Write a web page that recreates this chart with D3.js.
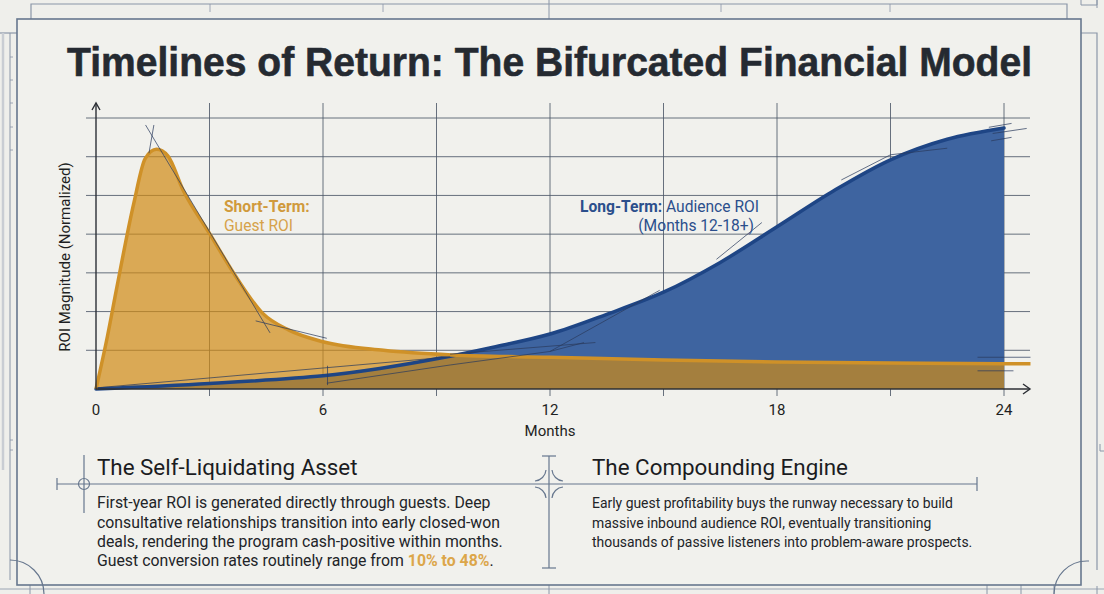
<!DOCTYPE html>
<html>
<head>
<meta charset="utf-8">
<script src="https://cdn.jsdelivr.net/npm/d3@7"></script>
<style>
  html, body { margin: 0; padding: 0; background: #efefeb; }
  svg { display: block; }
</style>
</head>
<body>
<svg id="chart" width="1104" height="594"></svg>
<script>
// ---------------- DATA ----------------
const title = "Timelines of Return: The Bifurcated Financial Model";
const xTicks = [0, 6, 12, 18, 24];
const gridMonths = [3, 6, 9, 12, 15, 18, 21, 24];
const gridValues = [1, 2, 3, 4, 5, 6, 7];

// Short-Term: Guest ROI (orange)
const guestMonths = [0, 0.3, 0.55, 1.0, 1.3, 1.6, 1.9, 2.3, 3.0, 3.7, 4.4, 5.1, 6.0, 7.6, 9.4, 12, 15, 18, 21, 24];
const guestValues = [0, 1.35, 2.62, 4.8, 5.95, 6.19, 6.02, 5.14, 4.02, 2.9, 1.96, 1.52, 1.22, 1.0, 0.88, 0.82, 0.75, 0.7, 0.67, 0.65];
const guestLineTail = [24, 24.7]; // line continues to the axis arrow
// Long-Term: Audience ROI (blue)
const audienceMonths = [0, 3, 6, 7.5, 9, 10.5, 12, 13.5, 15, 16.5, 18, 19.5, 21, 22.5, 24];
const audienceValues = [0, 0.14, 0.34, 0.53, 0.78, 1.08, 1.42, 1.93, 2.5, 3.27, 4.19, 5.12, 5.92, 6.45, 6.74];

// Drafting (construction) strokes, in [month, value] pairs
const draftLines = [
  [[1.31, 6.82], [4.6, 1.45]],
  [[1.53, 6.82], [1.40, 6.09]],
  [[4.22, 1.76], [6.1, 1.31]],
  [[0.02, 0.03], [9.36, 0.83]],
  [[6.1, 0.15], [9.36, 0.62]],
  [[6.12, 0.6], [6.12, 0.1]],
  [[9.36, 0.62], [12.0, 0.97], [14.9, 2.55]],
  [[12.0, 0.97], [12.9, 1.2]],
  [[9.36, 0.9], [13.2, 1.2]],
  [[16.4, 3.35], [17.6, 4.3]],
  [[19.7, 5.4], [21.0, 6.05], [22.5, 6.22]],
  [[23.6, 6.76], [24.2, 6.86]],
  [[23.7, 6.6], [24.6, 6.73]],
  [[23.66, 6.41], [24.2, 6.5]],
  [[23.3, 0.82], [24.7, 0.82]],
  [[23.3, 0.47], [24.25, 0.47]]
];

const leftHeading = "The Self-Liquidating Asset";
const leftBody = [
  "First-year ROI is generated directly through guests. Deep",
  "consultative relationships transition into early closed-won",
  "deals, rendering the program cash-positive within months.",
  "Guest conversion rates routinely range from "
];
const leftHighlight = "10% to 48%";
const rightHeading = "The Compounding Engine";
const rightBody = [
  "Early guest profitability buys the runway necessary to build",
  "massive inbound audience ROI, eventually transitioning",
  "thousands of passive listeners into problem-aware prospects."
];

// ---------------- SETUP ----------------
const svg = d3.select("#chart");
const W = 1104, H = 594;
const frameCol = "#67778e";
const gridCol = "#4f5a6a";
const ink = "#252a31";
const orangeLine = "#cf9128";
const blueFill = "#3e64a0";
const blueLine = "#1e4585";

svg.append("rect").attr("width", W).attr("height", H).attr("fill", "#efefeb");

// ---- blueprint frame decoration ----
const fr = svg.append("g").attr("fill", "none").attr("stroke", "#8a96a8");
fr.append("path").attr("d", "M31,19 V4 H1067 V19").attr("stroke-width", 1.2);
[210, 383, 721, 890].forEach(x => fr.append("line").attr("x1", x).attr("x2", x).attr("y1", 4).attr("y2", 12).attr("stroke-width", 0.8));
fr.append("line").attr("x1", 549).attr("x2", 549).attr("y1", 0).attr("y2", 19).attr("stroke-width", 1);
fr.append("path").attr("d", "M1081,0 V5 H1097 V0").attr("stroke-width", 1);
fr.append("path").attr("d", "M1081,33 H1097 V570").attr("stroke-width", 1.2);
fr.append("path").attr("d", "M0,33 H17").attr("stroke-width", 1.2);
fr.append("line").attr("x1", 10).attr("x2", 10).attr("y1", 33).attr("y2", 580).attr("stroke-width", 1);
fr.append("line").attr("x1", 3).attr("x2", 3).attr("y1", 33).attr("y2", 470).attr("stroke-width", 2.5).attr("stroke", "#c9cdd3");
[57, 80, 103, 127, 150, 440, 450].forEach(y => fr.append("line").attr("x1", 10).attr("x2", 13).attr("y1", y).attr("y2", y).attr("stroke-width", 0.8));
fr.append("path").attr("d", "M1097,0 V8 M1100,444 V451 H1104").attr("stroke-width", 1);
fr.append("line").attr("x1", 0).attr("x2", 1104).attr("y1", 589).attr("y2", 589).attr("stroke-width", 1).attr("stroke", "#9aa4b3");
[30, 549, 987, 1021, 1054].forEach(x => fr.append("line").attr("x1", x).attr("x2", x).attr("y1", 585).attr("y2", 594).attr("stroke-width", 1));
fr.append("path").attr("d", "M1097,586 V594").attr("stroke-width", 1);

// main panel
svg.append("rect").attr("x", 17).attr("y", 19).attr("width", 1064).attr("height", 566)
  .attr("fill", "#f1f1ed").attr("stroke", frameCol).attr("stroke-width", 1.6);
svg.append("path").attr("d", "M10,560 A34,34 0 0 1 44,594").attr("fill", "none").attr("stroke", frameCol).attr("stroke-width", 1.2);
svg.append("path").attr("d", "M1054,594 A33,33 0 0 1 1087,561 H1089").attr("fill", "none").attr("stroke", frameCol).attr("stroke-width", 1.2);

// ---------------- TITLE ----------------
svg.append("text").attr("x", 549.5).attr("y", 76).attr("text-anchor", "middle")
  .attr("font-family", "'Liberation Sans Narrow', 'Liberation Sans', Arial, sans-serif").attr("font-weight", "bold")
  .attr("font-size", 41).attr("fill", ink).attr("stroke", ink).attr("stroke-width", 0.6)
  .attr("textLength", 965).attr("lengthAdjust", "spacingAndGlyphs").text(title);

// ---------------- SCALES ----------------
const x = d3.scaleLinear().domain([0, 24]).range([96, 1004]);
const y = d3.scaleLinear().domain([0, 7]).range([389, 118]);
const xRight = 1030, yTop = 103;

// gridlines
const g = svg.append("g");
g.selectAll("line.h").data(gridValues).join("line")
  .attr("x1", 86).attr("x2", xRight).attr("y1", d => y(d)).attr("y2", d => y(d))
  .attr("stroke", gridCol).attr("stroke-width", 1).attr("opacity", 0.85);
g.selectAll("line.v").data(gridMonths).join("line")
  .attr("x1", d => x(d)).attr("x2", d => x(d)).attr("y1", yTop).attr("y2", 396)
  .attr("stroke", gridCol).attr("stroke-width", 1).attr("opacity", 0.85);

// ---------------- AREAS ----------------
const guest = guestMonths.map((m, i) => ({ m, v: guestValues[i] }));
const audience = audienceMonths.map((m, i) => ({ m, v: audienceValues[i] }));
const curveG = d3.curveMonotoneX;
const curveA = d3.curveCatmullRom.alpha(0.5);
const areaG = d3.area().x(d => x(d.m)).y0(y(0)).y1(d => y(d.v)).curve(curveG);
const lineG = d3.line().x(d => x(d.m)).y(d => y(d.v)).curve(curveG);
const areaA = d3.area().x(d => x(d.m)).y0(y(0)).y1(d => y(d.v)).curve(curveA);
const lineA = d3.line().x(d => x(d.m)).y(d => y(d.v)).curve(curveA);

svg.append("path").datum(audience).attr("d", areaA).attr("fill", blueFill);
svg.append("path").datum(guest).attr("d", areaG).attr("fill", "#d08a14").attr("fill-opacity", 0.7);

svg.append("path").datum(audience).attr("d", lineA).attr("fill", "none")
  .attr("stroke", blueLine).attr("stroke-width", 3.5).attr("stroke-linecap", "round");
const lastV = guestValues[guestValues.length - 1];
const guestLine = guest.concat(guestLineTail.slice(1).map(m => ({ m, v: lastV })));
svg.append("path").datum(guestLine).attr("d", lineG).attr("fill", "none")
  .attr("stroke", orangeLine).attr("stroke-width", 3.5).attr("stroke-linecap", "butt");

// drafting lines
const dl = d3.line().x(d => x(d[0])).y(d => y(d[1]));
svg.append("g").selectAll("path").data(draftLines).join("path")
  .attr("d", dl).attr("fill", "none").attr("stroke", "#2a3a5e").attr("stroke-width", 0.9).attr("opacity", 0.8);

// ---------------- AXES ----------------
const ax = svg.append("g").attr("stroke", "#2c2f35").attr("fill", "none").attr("stroke-width", 1.4);
ax.append("line").attr("x1", x(0)).attr("x2", x(0)).attr("y1", y(0)).attr("y2", yTop);
ax.append("path").attr("d", `M${x(0) - 4},${yTop + 7} L${x(0)},${yTop} L${x(0) + 4},${yTop + 7}`);
ax.append("line").attr("x1", x(0)).attr("x2", xRight).attr("y1", y(0)).attr("y2", y(0));
ax.append("path").attr("d", `M${xRight - 7},${y(0) - 5} L${xRight},${y(0)} L${xRight - 7},${y(0) + 5}`);

const tickFont = "Roboto, 'Liberation Sans', sans-serif";
svg.append("g").selectAll("text").data(xTicks).join("text")
  .attr("x", d => x(d)).attr("y", 415).attr("text-anchor", "middle")
  .attr("font-family", tickFont).attr("font-size", 15).attr("fill", "#1e1f22").text(d => d);
svg.append("text").attr("x", 550).attr("y", 436).attr("text-anchor", "middle")
  .attr("font-family", tickFont).attr("font-size", 15).attr("fill", "#1e1f22").text("Months");
svg.append("text").attr("transform", "translate(70,257) rotate(-90)").attr("text-anchor", "middle")
  .attr("font-family", tickFont).attr("font-size", 15).attr("fill", "#1e1f22").text("ROI Magnitude (Normalized)");

// series annotations
const annFont = "Roboto, 'Liberation Sans', sans-serif";
const annSize = 15.6;
svg.append("text").attr("x", 224).attr("y", 212).attr("font-family", annFont).attr("font-size", annSize)
  .attr("font-weight", "bold").attr("fill", "#d09a3c").text("Short-Term:");
svg.append("text").attr("x", 224).attr("y", 231).attr("font-family", annFont).attr("font-size", annSize)
  .attr("fill", "#d6a24a").text("Guest ROI");
const lt = svg.append("text").attr("x", 759).attr("y", 212).attr("text-anchor", "end")
  .attr("font-family", annFont).attr("font-size", annSize).attr("fill", "#2b4f8c");
lt.append("tspan").attr("font-weight", "bold").text("Long-Term:");
lt.append("tspan").text(" Audience ROI");
svg.append("text").attr("x", 754).attr("y", 231).attr("text-anchor", "end")
  .attr("font-family", annFont).attr("font-size", annSize).attr("fill", "#2b4f8c").text("(Months 12-18+)");

// ---------------- LOWER SECTIONS ----------------
const dv = svg.append("g").attr("fill", "none").attr("stroke", frameCol).attr("stroke-width", 1.2);
dv.append("line").attr("x1", 57).attr("x2", 977).attr("y1", 484).attr("y2", 484);
dv.append("line").attr("x1", 57).attr("x2", 57).attr("y1", 478).attr("y2", 490);
dv.append("line").attr("x1", 977).attr("x2", 977).attr("y1", 477).attr("y2", 491);
dv.append("circle").attr("cx", 84).attr("cy", 484).attr("r", 5.5);
dv.append("line").attr("x1", 84).attr("x2", 84).attr("y1", 455).attr("y2", 513);
dv.append("line").attr("x1", 549).attr("x2", 549).attr("y1", 456).attr("y2", 568);
dv.append("line").attr("x1", 542).attr("x2", 556).attr("y1", 456).attr("y2", 456);
dv.append("line").attr("x1", 542).attr("x2", 556).attr("y1", 568).attr("y2", 568);
dv.append("path").attr("d",
  "M535,481 A12,12 0 0 0 546,470 M552,470 A12,12 0 0 0 563,481 M535,487 A12,12 0 0 1 546,498 M552,498 A12,12 0 0 1 563,487");

const bodyFont = "Roboto, 'Liberation Sans', sans-serif";
function fitSize(str, target, base, weight) {
  const tmp = svg.append("text").attr("font-family", bodyFont).attr("font-size", base)
    .attr("font-weight", weight || "normal").text(str);
  const w = tmp.node().getComputedTextLength();
  tmp.remove();
  return base * target / w;
}
const hs = (fitSize(leftHeading, 277, 22) + fitSize(rightHeading, 240, 22)) / 2;
svg.append("text").attr("x", 97).attr("y", 475).attr("font-family", bodyFont).attr("font-size", hs)
  .attr("fill", "#1b1c1f").text(leftHeading);
svg.append("text").attr("x", 592).attr("y", 475).attr("font-family", bodyFont).attr("font-size", hs)
  .attr("fill", "#1b1c1f").text(rightHeading);

const bsL = fitSize(leftBody[2], 406, 15);
const bsR = fitSize(rightBody[0], 361, 15);
const lineYs = [508, 528, 547, 566];
leftBody.forEach((s, i) => {
  const tx = svg.append("text").attr("x", 97).attr("y", lineYs[i]).attr("font-family", bodyFont)
    .attr("font-size", bsL).attr("fill", "#222428");
  tx.append("tspan").text(s);
  if (i === 3) {
    tx.append("tspan").attr("font-weight", "bold").attr("fill", "#dca64a").text(leftHighlight);
    tx.append("tspan").text(".");
  }
});
rightBody.forEach((s, i) => {
  svg.append("text").attr("x", 592).attr("y", lineYs[i]).attr("font-family", bodyFont)
    .attr("font-size", bsR).attr("fill", "#222428").text(s);
});
</script>
</body>
</html>
